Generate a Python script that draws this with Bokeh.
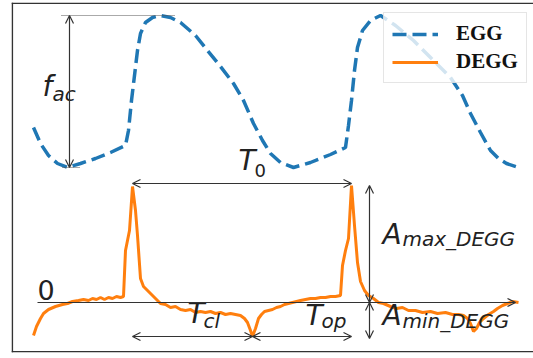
from bokeh.plotting import figure
from bokeh.models import Range1d, Arrow, OpenHead, Span, Legend, LegendItem
from bokeh.core.properties import value
from bokeh.embed import file_html
from bokeh.resources import INLINE

# ---- data (time in samples, amplitude in arbitrary units) ----
t_egg = [22, 29, 37, 46, 56, 69, 84, 99, 114, 117, 120, 123, 126, 129, 134, 141, 149, 159, 169, 184,
         196, 209, 222, 232, 242, 251, 259, 269, 282, 299, 319, 334, 337, 340, 343, 346, 351, 359, 369,
         384, 402, 419, 439, 451, 459, 469, 479, 487, 495, 507]
egg = [1.75, 1.59, 1.47, 1.39, 1.35, 1.39, 1.44, 1.50, 1.57, 1.72, 2.02, 2.27, 2.52, 2.69, 2.80, 2.85,
       2.87, 2.85, 2.80, 2.67, 2.52, 2.36, 2.19, 2.02, 1.79, 1.62, 1.49, 1.40, 1.35, 1.40, 1.48, 1.55,
       1.77, 2.02, 2.32, 2.55, 2.72, 2.82, 2.87, 2.77, 2.62, 2.45, 2.25, 2.07, 1.89, 1.70, 1.52, 1.44,
       1.39, 1.35]

t_degg = [22, 25, 29, 32, 37, 44, 51, 56, 61, 67, 72, 77, 81, 85, 89, 93, 97, 101, 105, 109, 112,
          114, 116, 118, 121, 124, 126, 129, 132, 136, 139, 144, 149, 154, 159, 164, 169, 174, 179,
          184, 189, 194, 199, 204, 209, 214, 219, 224, 229, 233, 236, 239, 241, 244, 247, 250, 253,
          257, 261, 265, 269, 273, 277, 281, 285, 289, 294, 299, 304, 309, 314, 319, 324, 329, 331,
          334, 337, 340, 343, 346, 349, 353, 357, 362, 367, 372, 379, 385, 391, 397, 404, 411, 419,
          426, 434, 441, 447, 452, 456, 459, 462, 465, 468, 472, 477, 482, 486, 491, 496, 501, 507]
degg = [-0.33, -0.24, -0.16, -0.11, -0.07, -0.04, -0.02, -0.01, 0.01, 0.02, 0.03, 0.02, 0.04, 0.03,
        0.05, 0.03, 0.05, 0.04, 0.06, 0.05, 0.06, 0.52, 0.62, 0.72, 1.16, 0.92, 0.67, 0.24, 0.16, 0.12,
        0.09, 0.04, -0.01, -0.02, -0.05, -0.04, -0.07, -0.08, -0.07, -0.10, -0.09, -0.10, -0.09, -0.11,
        -0.10, -0.12, -0.11, -0.12, -0.13, -0.16, -0.20, -0.28, -0.34, -0.26, -0.16, -0.12, -0.09,
        -0.08, -0.07, -0.05, -0.04, -0.02, -0.01, 0.00, 0.01, 0.02, 0.03, 0.04, 0.04, 0.05, 0.05, 0.06,
        0.06, 0.07, 0.37, 0.52, 0.64, 1.17, 0.77, 0.40, 0.21, 0.12, 0.07, 0.04, 0.00, -0.01, -0.04,
        -0.06, -0.05, -0.08, -0.08, -0.10, -0.09, -0.11, -0.10, -0.12, -0.12, -0.13, -0.16, -0.21,
        -0.29, -0.26, -0.20, -0.16, -0.12, -0.09, -0.06, -0.03, -0.01, 0.01, 0.00]

legend_labels = ["EGG", "DEGG"]

# ---- derived quantities ----
egg_max, egg_min = max(egg), min(egg)
i_emin = egg.index(egg_min)
degg_max, degg_min = max(degg), min(degg)
i_min = degg.index(degg_min)
half = len(degg) // 2
i_p1 = degg.index(max(degg[:half]))
i_p2 = half + degg[half:].index(max(degg[half:]))
t_p1, t_p2, t_min = t_degg[i_p1], t_degg[i_p2], t_degg[i_min]

p = figure(width=533, height=358, output_backend="svg", toolbar_location=None,
           x_range=Range1d(0, 522), y_range=Range1d(-0.5, 3.0),
           x_axis_location=None, y_axis_location=None,
           min_border_left=11, min_border_right=0, min_border_top=2, min_border_bottom=6)
p.grid.visible = False
p.outline_line_color = None
p.background_fill_color = "white"
p.border_fill_color = "white"

frame_c = "#333333"
p.add_layout(Span(location=0.8, dimension="height", line_color=frame_c, line_width=1.6))
p.add_layout(Span(location=2.992, dimension="width", line_color=frame_c, line_width=1.6))
p.add_layout(Span(location=-0.492, dimension="width", line_color=frame_c, line_width=1.6))

r_egg = p.line(t_egg, egg, line_color="#1f77b4", line_width=3.5, line_dash="14 6")
r_degg = p.line(t_degg, degg, line_color="#ff7f0e", line_width=3)

ac = "#333333"
def arrow(x0, y0, x1, y1, both=True):
    p.add_layout(Arrow(x_start=x0, y_start=y0, x_end=x1, y_end=y1,
                       start=OpenHead(size=8, line_width=1.2, line_color=ac) if both else None,
                       end=OpenHead(size=8, line_width=1.2, line_color=ac),
                       line_width=1.2, line_color=ac))

# f_ac
x_fac = t_egg[i_emin] + 2
p.line([x_fac - 8, x_fac + 106], [egg_max, egg_max], line_color="#555555", line_width=1, line_dash="1 1")
p.line([x_fac - 7, x_fac + 11], [egg_min, egg_min], line_color="#555555", line_width=1, line_dash="1 1")
arrow(x_fac, egg_min, x_fac, egg_max)
# T0
arrow(t_p1, degg_max + 0.02, t_p2, degg_max + 0.02)
# zero line
arrow(26, 0, 504, 0, both=False)
# Tcl / Top
arrow(t_p1, degg_min, t_min, degg_min)
arrow(t_min, degg_min, t_p2, degg_min)
# Amax / Amin
x_a = t_p2 + 18
arrow(x_a, 0, x_a, degg_max)
arrow(x_a, degg_min - 0.02, x_a, 0)

font = value("DejaVu Sans")
tc = "#222222"
p.text(x=[31, 227, 371, 371, 176, 294], y=[2.16, 1.42, 0.68, -0.13, -0.11, -0.13],
       text=["f", "T", "A", "A", "T", "T"], text_font=font, text_font_style="italic",
       text_font_size="28px", text_baseline="alphabetic", text_align="left", text_color=tc)
p.text(x=[41, 391, 391, 192, 310], y=[2.09, 0.64, -0.18, -0.18, -0.18],
       text=["ac", "max_DEGG", "min_DEGG", "cl", "op"], text_font=font, text_font_style="italic",
       text_font_size="20px", text_baseline="alphabetic", text_align="left", text_color=tc)
p.text(x=[243], y=[1.32], text=["0"], text_font=font, text_font_size="18px",
       text_baseline="alphabetic", text_align="left", text_color=tc)
p.text(x=[26], y=[0.13], text=["0"], text_font=font, text_font_size="27px",
       text_baseline="alphabetic", text_align="left", text_color=tc)

legend = Legend(items=[LegendItem(label=legend_labels[0], renderers=[r_egg]),
                       LegendItem(label=legend_labels[1], renderers=[r_degg])],
                location=(372, 269), glyph_width=46, glyph_height=20, label_height=20,
                label_standoff=18, padding=8, spacing=3, margin=0,
                label_text_font="Liberation Serif", label_text_font_style="bold",
                label_text_font_size="21px", label_text_color="#111111",
                border_line_color="#cccccc", border_line_width=1,
                background_fill_color="white", background_fill_alpha=0.8)
p.add_layout(legend, "center")

open("out.html", "w").write(file_html(p, INLINE))
